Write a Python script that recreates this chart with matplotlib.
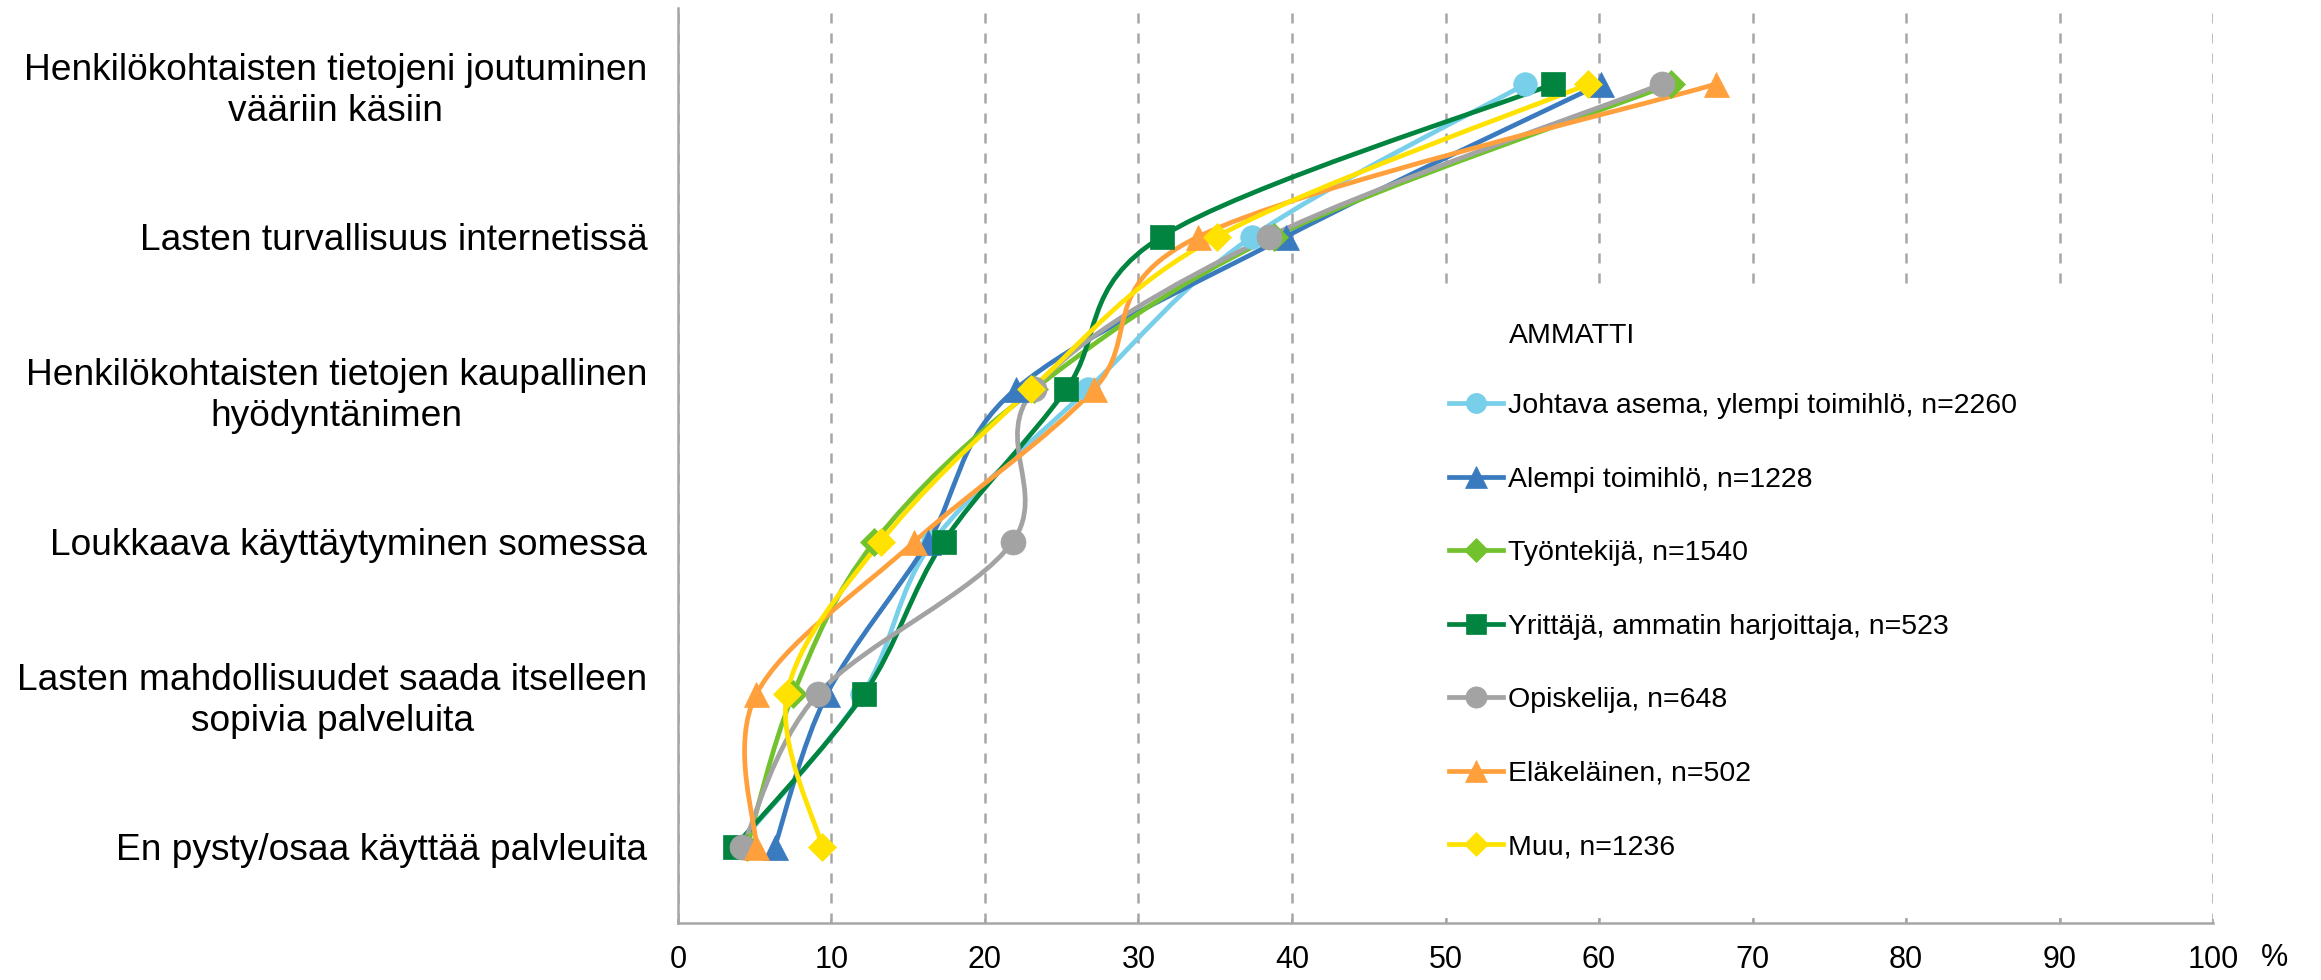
import numpy as np
import matplotlib.pyplot as plt
from matplotlib.path import Path
from matplotlib.patches import PathPatch, Rectangle
from matplotlib.lines import Line2D

plt.rcParams['font.family'] = ['Liberation Sans', 'DejaVu Sans']

kategoriat = ["Henkilökohtaisten tietojeni joutuminen\nvääriin käsiin",
              "Lasten turvallisuus internetissä",
              "Henkilökohtaisten tietojen kaupallinen\nhyödyntänimen",
              "Loukkaava käyttäytyminen somessa",
              "Lasten mahdollisuudet saada itselleen\nsopivia palveluita",
              "En pysty/osaa käyttää palvleuita"]

sarjat = ["Johtava asema, ylempi toimihlö, n=2260",
          "Alempi toimihlö, n=1228",
          "Työntekijä, n=1540",
          "Yrittäjä, ammatin harjoittaja, n=523",
          "Opiskelija, n=648",
          "Eläkeläinen, n=502",
          "Muu, n=1236"]

johtava = [55.2, 37.4, 26.7, 16.6, 12.0, 3.8]
alempi = [60.1, 39.6, 22.0, 16.3, 9.7, 6.3]
tyontekija = [64.7, 38.8, 23.2, 12.8, 7.5, 4.5]
yrittaja = [57.0, 31.5, 25.3, 17.3, 12.1, 3.7]
opiskelija = [64.1, 38.5, 23.2, 21.8, 9.1, 4.2]
elakelainen = [67.6, 33.9, 27.1, 15.4, 5.1, 5.1]
muu = [59.3, 35.1, 23.0, 13.2, 7.1, 9.4]
arvot = [johtava, alempi, tyontekija, yrittaja, opiskelija, elakelainen, muu]

varit = ['#78CFEA', '#3A7BBF', '#72C22D', '#00843F', '#A3A3A3', '#FFA03C', '#FFE200']
merkit = ['o', '^', 'D', 's', 'o', '^', 'D']
koot = [17, 18, 14, 17, 18, 18, 14]


def pehmea(x, y):
    # Excel-tyylinen tasoitettu viiva (Catmull-Rom -> Bezier)
    p = np.column_stack([x, y]).astype(float)
    n = len(p)
    verts = [p[0]]
    codes = [Path.MOVETO]
    for i in range(n - 1):
        p0 = p[i - 1] if i > 0 else p[i]
        p3 = p[i + 2] if i + 2 < n else p[i + 1]
        c1 = p[i] + (p[i + 1] - p0) / 6
        c2 = p[i + 1] - (p3 - p[i]) / 6
        verts += [c1, c2, p[i + 1]]
        codes += [Path.CURVE4] * 3
    return Path(verts, codes)


fig = plt.figure(figsize=(23.21, 9.8), dpi=100)
ax = fig.add_axes([0.2921, 0.058, 0.6614, 0.934])

y = np.arange(len(kategoriat))
kahvat = []
for v, c, m, s, nimi in zip(arvot, varit, merkit, koot, sarjat):
    ax.add_patch(PathPatch(pehmea(v, y), fill=False, edgecolor=c, lw=3.4, zorder=3))
    ax.plot(v, y, linestyle='None', color=c, marker=m, markersize=s,
            markeredgewidth=0.5, zorder=4)
    kahvat.append(Line2D([], [], color=c, lw=3.4, marker=m, markersize=s * 0.85,
                         markeredgewidth=0.5, label=nimi))

ax.set_xlim(0, 100)
ax.set_ylim(len(kategoriat) - 0.5, -0.5)
ax.set_xticks(np.arange(0, 101, 10))
ax.set_yticks(y)
ax.set_yticklabels(kategoriat, fontsize=26.7)
for t in ax.get_yticklabels():
    t.set_multialignment('center')
ax.tick_params(axis='x', labelsize=22, direction='in', length=3, width=1.2,
               color='#A6A6A6', pad=16)
ax.tick_params(axis='y', length=0, pad=22)
ax.xaxis.grid(True, linestyle=(0, (4, 4)), color='#A6A6A6', lw=1.8)
ax.set_axisbelow(True)
for k in ['top', 'right']:
    ax.spines[k].set_visible(False)
for k in ['left', 'bottom']:
    ax.spines[k].set_color('#A6A6A6')
    ax.spines[k].set_linewidth(1.8)
ax.text(1.04, -0.038, '%', transform=ax.transAxes, fontsize=22, ha='center', va='center')

# selitteen valkoinen tausta peittää ruudukon
ax.add_patch(Rectangle((0.494, 0.006), 0.48, 0.684, transform=ax.transAxes,
                       facecolor='white', edgecolor='none', zorder=1.5))
fig.text(0.6503, 1 - 336 / 980, 'AMMATTI', fontsize=20.5, ha='left', va='center')
leg = ax.legend(handles=kahvat, loc='upper left', bbox_to_anchor=(1449 / 2321, 1 - 393 / 980),
                bbox_transform=fig.transFigure, fontsize=20.5, frameon=False,
                labelspacing=1.67, handlelength=1.9, handletextpad=0.18,
                borderaxespad=0, borderpad=0)

fig.savefig('out.png', dpi=100)
